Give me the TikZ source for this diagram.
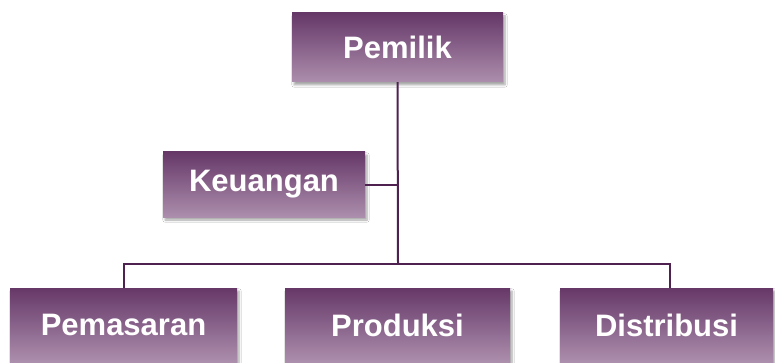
\documentclass[tikz,border=0pt]{standalone}
\usepackage{fontspec}
\setmainfont{Liberation Sans}
\usetikzlibrary{shadows.blur}
\definecolor{boxtop}{HTML}{663868}
\definecolor{boxbot}{HTML}{AC8EAD}
\definecolor{linkcol}{HTML}{4E2150}
\tikzset{
  unit/.style={minimum height=#1, inner sep=0pt, top color=boxtop, bottom color=boxbot,
    draw=none, text=white, font=\fontsize{31}{35}\selectfont\bfseries,
    blur shadow={shadow xshift=2pt, shadow yshift=-3pt, shadow blur steps=6, shadow opacity=35}},
  link/.style={draw=linkcol, line width=2pt}
}
\begin{document}
\begin{tikzpicture}[x=1pt,y=-1pt]
\useasboundingbox[fill=white] (0,0) rectangle (775,363);
\node[unit=69pt, minimum width=211pt] (owner) at (397.5,47.5) {Pemilik};
\node[unit=65pt, minimum width=202pt] (fin) at (264,184.5) {Keuangan};
\node[unit=74pt, minimum width=227pt] (mkt) at (123.5,325) {Pemasaran};
\node[unit=74pt, minimum width=225pt] (prod) at (397.5,325) {Produksi};
\node[unit=74pt, minimum width=213pt] (dist) at (666.5,325) {Distribusi};
\coordinate (bus) at (398,264);
\coordinate (mid) at (398,185);
\coordinate (distdrop) at (670,288);
\draw[link] (owner.south) -- (bus);
\draw[link] (fin.east |- mid) -- (mid);
\draw[link] (mkt.north) |- (bus) -| (distdrop);
\end{tikzpicture}
\end{document}
